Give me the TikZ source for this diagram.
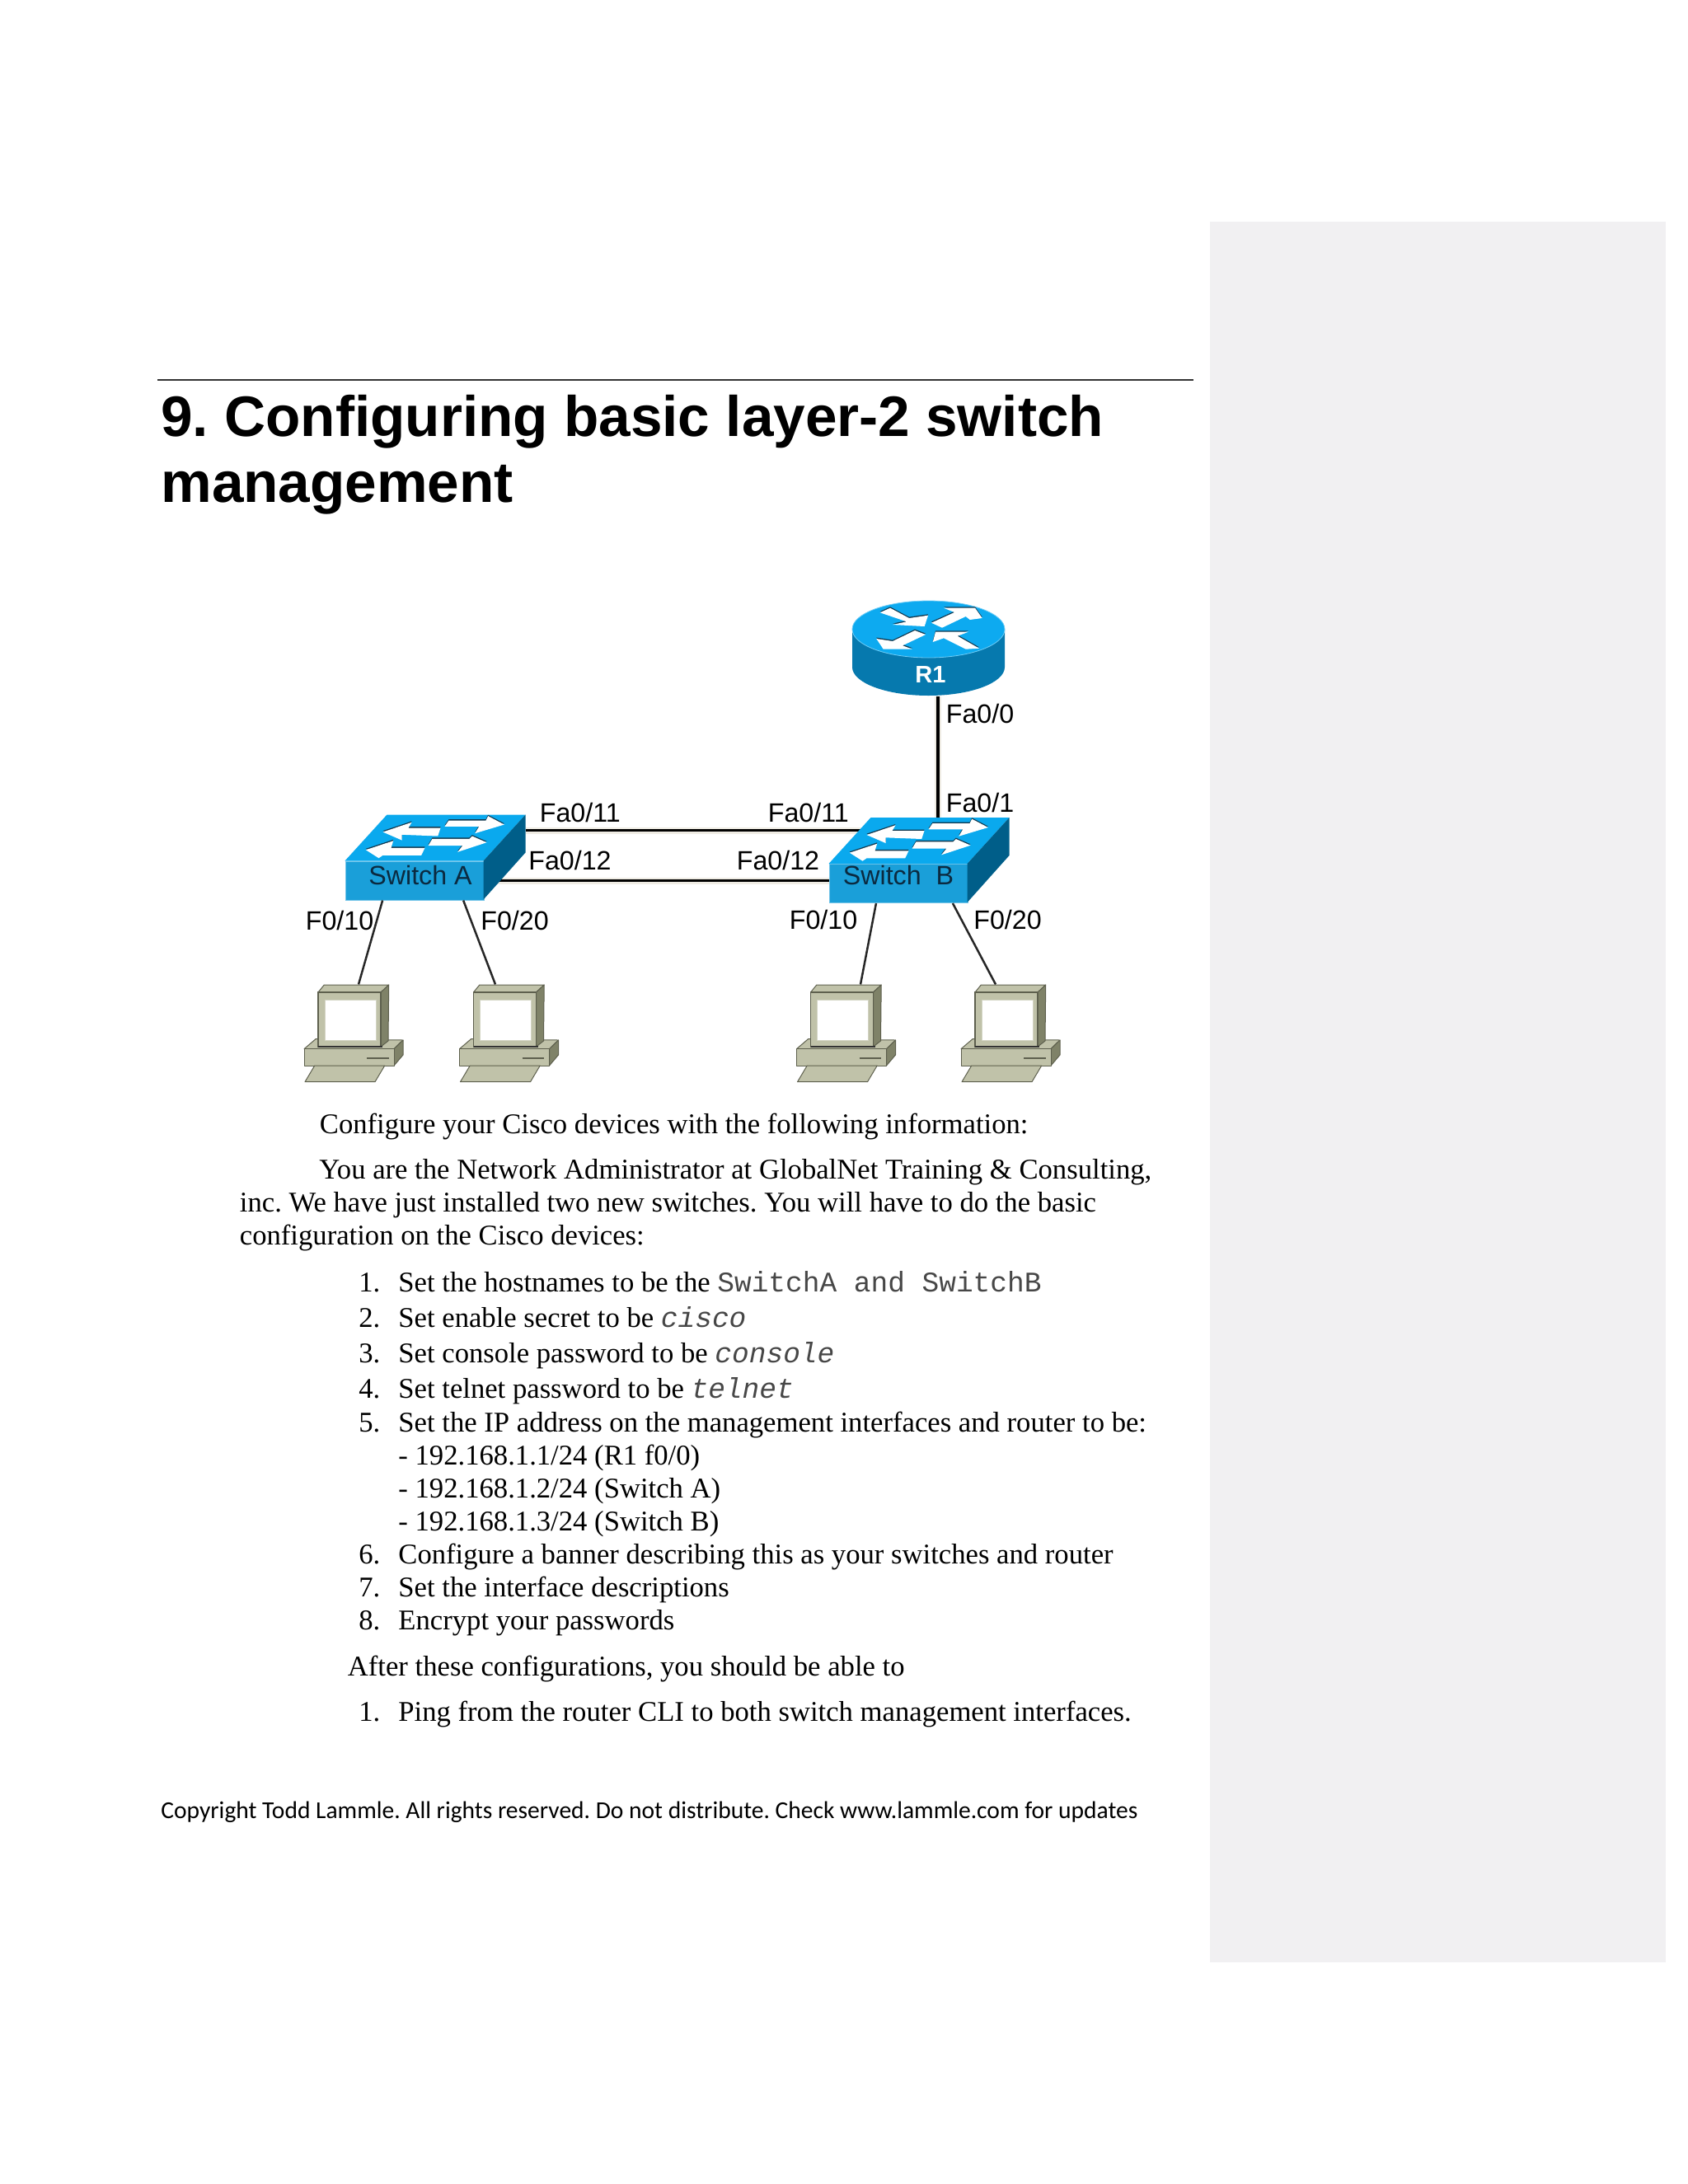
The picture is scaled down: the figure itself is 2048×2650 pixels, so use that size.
\documentclass[tikz,border=0pt]{standalone}
\usepackage{fontspec}
\setmainfont{Liberation Serif}
\setsansfont{Liberation Sans}
\setmonofont[Scale=0.995]{Liberation Mono}
\newfontfamily\footfont{Carlito}
\usetikzlibrary{calc}
\definecolor{panelgray}{HTML}{F1F0F2}
\definecolor{swtop}{HTML}{0AA9EE}
\definecolor{swfront}{HTML}{1A9FD9}
\definecolor{swside}{HTML}{005E89}
\definecolor{rttop}{HTML}{0DAAF0}
\definecolor{rtside}{HTML}{0679AE}
\definecolor{pcbody}{HTML}{C0C2A9}
\definecolor{pcside}{HTML}{7F8268}
\definecolor{pcedge}{HTML}{5E604E}
\definecolor{swtext}{HTML}{0B2A40}
\definecolor{glyphedge}{HTML}{12384E}
\definecolor{halo}{HTML}{EFECE4}
\frenchspacing

\begin{document}
\begin{tikzpicture}[x=0.5pt,y=-0.5pt]
	\tikzstyle{head} = [inner sep = 0pt, anchor = base west, font = \sffamily\bfseries\fontsize{34.65}{40}\selectfont]
	\tikzstyle{body} = [inner sep = 0pt, anchor = base west, font = \rmfamily\fontsize{17.33}{20}\selectfont]
	\tikzstyle{port} = [inner sep = 0pt, anchor = base west, font = \sffamily\fontsize{16.1}{18}\selectfont]
	\tikzstyle{swlabel} = [port, text = swtext, font = \sffamily\fontsize{16.1}{18}\selectfont]
	\tikzstyle{swbox} = [
		rectangle, fill = swfront, draw = swfront!60!white, line width = 0.5pt,
		inner sep = 0pt, minimum width = 84pt, minimum height = 23.5pt
	]
	\tikzstyle{pcbox} = [
		rectangle, fill = pcbody, draw = pcedge, line width = 0.6pt,
		inner sep = 0pt, minimum width = 38pt, minimum height = 33pt
	]
	\tikzstyle{screen} = [fill = white, draw = pcbody!70!white, line width = 0.5pt]
	\tikzstyle{pcpart} = [fill = pcbody, draw = pcedge, line width = 0.5pt, line join = round]
	\tikzstyle{trunk} = [-, draw = black, line width = 1.9pt, preaction = {draw = halo, line width = 4pt}]
	\tikzstyle{wire} = [-, draw = black!85, line width = 1.25pt]
	\tikzstyle{glyph} = [fill = white, preaction = {fill = glyphedge, transform canvas = {yshift = 0.7pt}}]
	\useasboundingbox (0,0) rectangle (2048,2650);
	\fill[panelgray] (1468,269) rectangle (2021,2381);
	\draw[black!80, line width = 1pt] (191,461) -- (1448,461);
	\node[head] (title1) at (195,529) {9. Configuring basic layer-2 switch};
	\node[head] (title2) at (195,609) {management};
	% the four hosts
	\foreach \pc/\x in {pca/424,pcb/612.5,pcc/1021.5,pcd/1221} {
		\begin{scope}[shift = {(\x,1237)}]
			\filldraw[pcpart] (-55,35.7) -- (-41,23.7) -- (65,25) -- (54,35.7) -- cycle;
			\filldraw[pcpart, fill = pcside] (54,35.7) -- (65,25) -- (65,43) -- (54,56) -- cycle;
			\filldraw[pcpart] (-55,35.7) rectangle (54,56);
			\draw[pcedge, line width = 1pt] (21,46.7) -- (47.7,46.7);
			\filldraw[pcpart] (-42.3,56) -- (42.7,56) -- (31,75.7) -- (-54,75.7) -- cycle;
			\filldraw[pcpart] (-30.7,-42) -- (47.7,-42) -- (38,-33) -- (-38,-33) -- cycle;
			\filldraw[pcpart, fill = pcside] (38,-33) -- (47.7,-42) -- (47,26) -- (38,33) -- cycle;
			\node[pcbox] (\pc) at (0,0) {};
			\filldraw[screen] (-30,-23.7) rectangle (32,25.7);
			\draw[black!80, line width = 1pt] (-38,33) -- (40,33);
		\end{scope}
	}
	\node[swbox] (swa) at (503,1068.5) {};
	\node[swbox] (swb) at (1090,1072) {};
	\node[inner sep = 0pt, minimum width = 92.5pt, minimum height = 58pt] (r1) at (1126.5,786.5) {};
	\coordinate (swaback) at ($(swa.north east)+(50,-37)$);
	\coordinate (swbback) at ($(swb.north west)+(52,-41)$);
	\coordinate (r1port) at ($(r1.south)+(11.5,0)$);
	\draw[trunk] (swaback) -- (swaback -| swbback);
	\draw[trunk] (swa.east) -- (swa.east -| swb.west);
	\draw[trunk] (r1port) -- (r1port |- swbback);
	\draw[wire] ($(swa.south west)!0.27!(swa.south east)$) -- ($(pca.north)+(11,-9)$);
	\draw[wire] ($(swa.south west)!0.85!(swa.south east)$) -- ($(pcb.north)+(-11.5,-9)$);
	\draw[wire] ($(swb.south west)!0.34!(swb.south east)$) -- ($(pcc.north)+(22.5,-9)$);
	\draw[wire] ($(swb.south west)!0.89!(swb.south east)$) -- ($(pcd.north)+(-13,-9)$);
	% faces of the switches go over the ends of the trunks
	\foreach \sw in {swa,swb} {
		\begin{scope}[shift = {(\sw.north west)}]
			\fill[swtop] (0,0) -- (51,-56) -- (219,-56) -- (168,0) -- cycle;
			\fill[swside] (168,0) -- (219,-56) -- (219,-10) -- (168,47) -- cycle;
			\path[glyph] (46,-35) -- (81,-46.7) -- (77,-40) -- (116,-40) -- (112.7,-30) -- (69,-31.7) -- (69,-25) -- cycle;
			\path[glyph] (193.3,-44) -- (173.7,-54.3) -- (171,-49) -- (126,-49) -- (121,-41.7) -- (162.7,-41.7) -- (157.7,-33.3) -- cycle;
			\path[glyph] (25.3,-13.3) -- (58.7,-24.3) -- (56,-15.7) -- (97,-15.7) -- (92.7,-6.7) -- (46,-6.7) -- (41,-3.3) -- cycle;
			\path[glyph] (172,-22.3) -- (154.3,-30) -- (151,-26.7) -- (106,-26.7) -- (101,-18.3) -- (142.7,-18.3) -- (136.7,-10.7) -- cycle;
		\end{scope}
	}
	% router
	\fill[rtside] (1034,763.5) -- (1034,809.5) arc[start angle = 180, end angle = 0, x radius = 92.5, y radius = 34.5] -- (1219,763.5) -- cycle;
	\filldraw[fill = rttop, draw = rttop!60!white, line width = 0.4pt] (1126.5,763.5) ellipse [x radius = 92.5, y radius = 34.5];
	\path[glyph] (1067.7,743.3) -- (1080,737.7) -- (1103,750) -- (1126,746.7) -- (1121.7,760) -- (1083,758) -- (1100,754.3) -- cycle;
	\path[glyph] (1191.7,750) -- (1183,737.7) -- (1145,737.7) -- (1158,743) -- (1130,755.7) -- (1143,761.7) -- (1171.7,748) -- (1176.7,752) -- cycle;
	\path[glyph] (1063.3,775) -- (1071.7,787.7) -- (1107,787.7) -- (1095,783.3) -- (1123,770) -- (1110,765) -- (1083,778) -- cycle;
	\path[glyph] (1188,786.7) -- (1171.7,787.7) -- (1145,774.3) -- (1131.7,779) -- (1135,766.7) -- (1175,766.7) -- (1161.7,771.7) -- cycle;
	\node[text = white, inner sep = 0pt, font = \sffamily\bfseries\fontsize{14.5}{16}\selectfont] (r1name) at (1129,818.5) {R1};
	\node[swlabel] (swaname) at (447,1073) {Switch A};
	\node[swlabel] (swbname) at (1022.5,1073.5) {Switch\ \ B};
	\node[port] (p1) at (1147.5,877) {Fa0/0};
	\node[port] (p2) at (1147.5,985.5) {Fa0/1};
	\node[port] (p3) at (654.5,997.5) {Fa0/11};
	\node[port] (p4) at (931.5,997.5) {Fa0/11};
	\node[port] (p5) at (641,1055.5) {Fa0/12};
	\node[port] (p6) at (893.5,1055.5) {Fa0/12};
	\node[port] (p7) at (370.5,1128) {F0/10};
	\node[port] (p8) at (583,1128) {F0/20};
	\node[port] (p9) at (957.5,1127.5) {F0/10};
	\node[port] (p10) at (1181,1127.5) {F0/20};
	% page text
	\node[body] (intro) at (387.5,1375) {Configure your Cisco devices with the following information:};
	\node[body] (para1) at (387,1430.5) {You are the Network Administrator at GlobalNet Training \& Consulting,};
	\node[body] (para2) at (290.5,1470.5) {inc. We have just installed two new switches. You will have to do the basic};
	\node[body] (para3) at (290.5,1510) {configuration on the Cisco devices:};
	\node[body] (n1) at (435,1567.5) {1.};
	\node[body] (t1) at (483,1567.5) {Set the hostnames to be the {\ttfamily\color{black!72}SwitchA and SwitchB}};
	\node[body] (n2) at (435,1610.5) {2.};
	\node[body] (t2) at (483,1610.5) {Set enable secret to be {\ttfamily\itshape\color{black!72}cisco}};
	\node[body] (n3) at (435,1653.5) {3.};
	\node[body] (t3) at (483,1653.5) {Set console password to be {\ttfamily\itshape\color{black!72}console}};
	\node[body] (n4) at (435,1696.5) {4.};
	\node[body] (t4) at (483,1696.5) {Set telnet password to be {\ttfamily\itshape\color{black!72}telnet}};
	\node[body] (n5) at (435,1737.5) {5.};
	\node[body] (t5) at (483,1737.5) {Set the IP address on the management interfaces and router to be:};
	\node[body] (ip1) at (483,1777) {- 192.168.1.1/24 (R1 f0/0)};
	\node[body] (ip2) at (483,1817) {- 192.168.1.2/24 (Switch A)};
	\node[body] (ip3) at (483,1857) {- 192.168.1.3/24 (Switch B)};
	\node[body] (n6) at (435,1897) {6.};
	\node[body] (t6) at (483,1897) {Configure a banner describing this as your switches and router};
	\node[body] (n7) at (435,1937) {7.};
	\node[body] (t7) at (483,1937) {Set the interface descriptions};
	\node[body] (n8) at (435,1977) {8.};
	\node[body] (t8) at (483,1977) {Encrypt your passwords};
	\node[body] (after) at (421.5,2033) {After these configurations, you should be able to};
	\node[body] (n9) at (435,2088.5) {1.};
	\node[body] (t9) at (483,2088.5) {Ping from the router CLI to both switch management interfaces.};
	\node[inner sep = 0pt, anchor = base west, font = \footfont\fontsize{14.76}{18}\selectfont] (foot) at (195,2206) {Copyright Todd Lammle. All rights reserved. Do not distribute. Check www.lammle.com for updates};
\end{tikzpicture}
\end{document}
